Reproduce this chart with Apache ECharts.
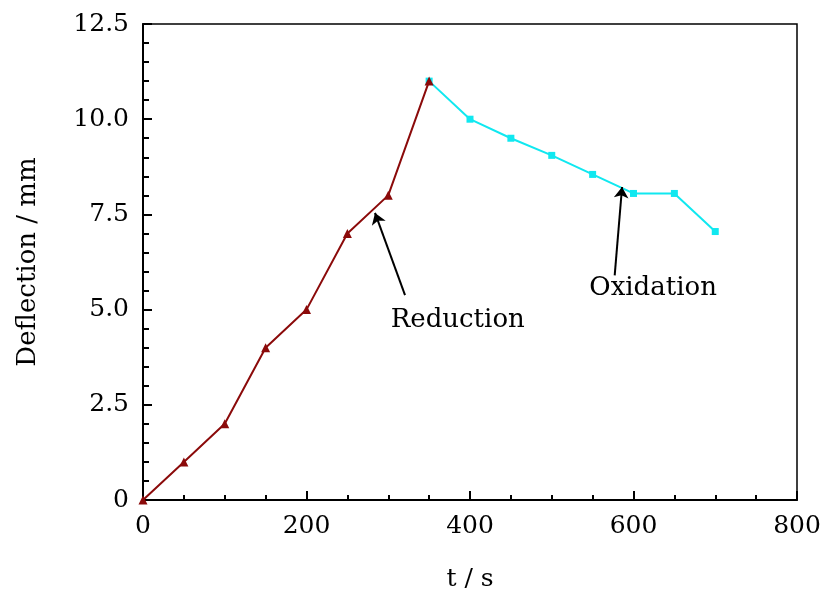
<!DOCTYPE html>
<html><head><meta charset="utf-8">
<script src="https://cdn.jsdelivr.net/npm/echarts@6/dist/echarts.min.js"></script>
<style>html,body{margin:0;padding:0;background:#fff}#c{width:833px;height:592px}</style>
</head><body><div id="c"></div>
<script>
var redT = [0, 50, 100, 150, 200, 250, 300, 350];
var redY = [0, 1, 2, 4, 5, 7, 8, 11];
var oxT = [350, 400, 450, 500, 550, 600, 650, 700];
var oxY = [11, 10, 9.5, 9.05, 8.55, 8.05, 8.05, 7.05];
var xTicks = [0, 200, 400, 600, 800];
var yTicks = [0, 2.5, 5, 7.5, 10, 12.5];
var notes = [
  {text: 'Reduction', label: [385, 4.73], from: [320.5, 5.38], to: [283.8, 7.54]},
  {text: 'Oxidation', label: [624, 5.57], from: [577, 5.9], to: [586, 8.22]}
];
var FONT = 'DejaVu Serif';
var pairs = function(xs, ys){ return xs.map(function(x,i){return [x, ys[i]];}); };
var chart = echarts.init(document.getElementById('c'));
chart.setOption({
  animation: false,
  backgroundColor: '#fff',
  grid: {left: 143, right: 36, top: 24, bottom: 92, containLabel: false, outerBoundsMode: 'none',
    show: true, borderColor: '#000', borderWidth: 1.5, backgroundColor: 'transparent'},
  xAxis: {
    type: 'value', min: xTicks[0], max: xTicks[xTicks.length-1], interval: 200,
    name: 't / s', nameLocation: 'middle', nameGap: 67,
    nameTextStyle: {fontFamily: FONT, fontSize: 25, color: '#000'},
    axisLine: {show: true, onZero: false, lineStyle: {color: '#000', width: 2}},
    axisTick: {show: true, inside: true, length: 9, lineStyle: {color: '#000', width: 2}},
    minorTick: {show: true, splitNumber: 4, length: 5, lineStyle: {color: '#000', width: 2}},
    splitLine: {show: false},
    axisLabel: {fontFamily: FONT, fontSize: 25, color: '#000', margin: 14}
  },
  yAxis: {
    type: 'value', min: yTicks[0], max: yTicks[yTicks.length-1], interval: 2.5,
    name: 'Deflection / mm', nameLocation: 'middle', nameGap: 102, nameRotate: 90,
    nameTextStyle: {fontFamily: FONT, fontSize: 26, color: '#000'},
    axisLine: {show: true, onZero: false, lineStyle: {color: '#000', width: 2}},
    axisTick: {show: true, inside: true, length: 9, lineStyle: {color: '#000', width: 2}},
    minorTick: {show: true, splitNumber: 5, length: 6, lineStyle: {color: '#000', width: 2}},
    splitLine: {show: false},
    axisLabel: {fontFamily: FONT, fontSize: 25, color: '#000', margin: 14,
      formatter: function(v){ return v === 0 ? '0' : v.toFixed(1); }}
  },
  series: [
    {
      type: 'line', data: pairs(oxT, oxY), z: 2,
      lineStyle: {color: '#10e8f0', width: 2},
      itemStyle: {color: '#10e8f0'},
      symbol: 'rect', symbolSize: 7, showSymbol: true
    },
    {
      type: 'line', data: pairs(redT, redY), z: 3,
      lineStyle: {color: '#8b0a0a', width: 2},
      itemStyle: {color: '#8b0a0a'},
      symbol: 'triangle', symbolSize: 9, showSymbol: true,
      markLine: {
        silent: true, symbol: ['none', 'arrow'], symbolSize: 11,
        lineStyle: {color: '#000', width: 2, type: 'solid'},
        label: {show: false},
        data: notes.map(function(n){ return [{coord: n.from}, {coord: n.to}]; })
      },
      markPoint: {
        silent: true, symbol: 'circle', symbolSize: 1,
        itemStyle: {color: 'rgba(0,0,0,0)'},
        label: {show: true, position: 'inside', fontFamily: FONT, fontSize: 26, color: '#000',
          formatter: function(p){ return p.name; }},
        data: notes.map(function(n){ return {name: n.text, coord: n.label}; })
      }
    }
  ]
});
</script></body></html>
